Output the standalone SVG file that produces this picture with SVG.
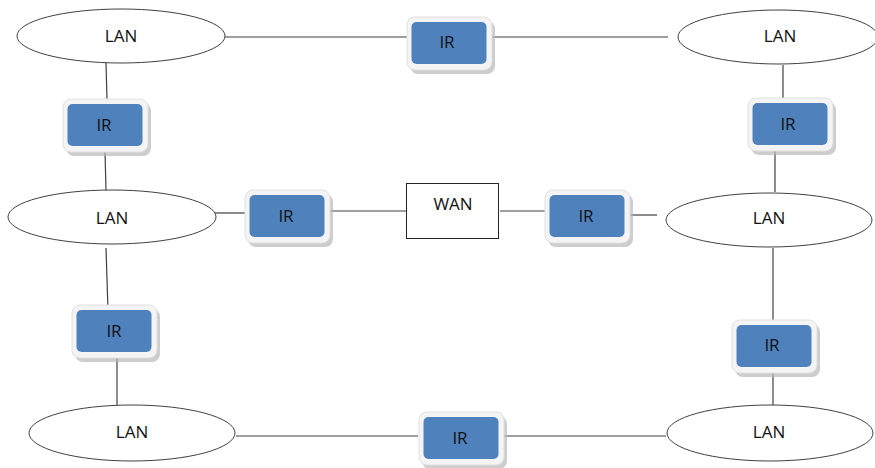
<svg xmlns="http://www.w3.org/2000/svg" width="875" height="468" viewBox="0 0 875 468">
<style>
.lan{fill:#fff;stroke:#404040;stroke-width:1}
.wan{fill:#fff;stroke:#262626;stroke-width:1}
.shadow{fill:#b8b8b8;opacity:0.7}
.frame{fill:#f4f4f4;stroke:#e0e0e0;stroke-width:1}
.blue{fill:#4f81bd}
.t{font-family:"Open Sans","Liberation Sans",sans-serif;font-size:17px;fill:#111;text-anchor:middle;dominant-baseline:central}
.c line{stroke:#404040;stroke-width:1.2}
</style>
<defs>
<g id="ir">
<rect class="shadow" x="3" y="4" width="85" height="53" rx="8"/>
<rect class="frame" x="0" y="0" width="85" height="53" rx="8"/>
<rect class="blue" x="4.5" y="5" width="75" height="42" rx="5"/>
</g>
</defs>
<rect width="875" height="468" fill="#fff"/>
<g class="c" id="connectors">
<line x1="225" y1="37" x2="407" y2="37"/>
<line x1="492" y1="37" x2="668" y2="37"/>
<line x1="106" y1="63" x2="107" y2="100"/>
<line x1="105" y1="152" x2="106" y2="190"/>
<line x1="215" y1="213" x2="245" y2="213"/>
<line x1="330" y1="211" x2="406" y2="211"/>
<line x1="500" y1="211" x2="547" y2="211"/>
<line x1="630" y1="215" x2="657" y2="215"/>
<line x1="106" y1="248" x2="108" y2="310"/>
<line x1="117" y1="353" x2="117" y2="405"/>
<line x1="783" y1="65" x2="783" y2="100"/>
<line x1="775" y1="145" x2="775" y2="192"/>
<line x1="773" y1="248" x2="773" y2="323"/>
<line x1="773" y1="367" x2="773" y2="405"/>
<line x1="236" y1="436" x2="418" y2="436"/>
<line x1="503" y1="436" x2="666" y2="436"/>
</g>
<g id="lan1"><ellipse class="lan" cx="121" cy="36" rx="104" ry="27"/><text class="t" x="121" y="35">LAN</text></g>
<g id="lan2"><ellipse class="lan" cx="778" cy="37" rx="100" ry="27"/><text class="t" x="780" y="35">LAN</text></g>
<g id="lan3"><ellipse class="lan" cx="112" cy="217" rx="104" ry="27"/><text class="t" x="112" y="217">LAN</text></g>
<g id="lan4"><ellipse class="lan" cx="769" cy="220" rx="103" ry="27"/><text class="t" x="769" y="217">LAN</text></g>
<g id="lan5"><ellipse class="lan" cx="132" cy="433" rx="103" ry="28"/><text class="t" x="132" y="431">LAN</text></g>
<g id="lan6"><ellipse class="lan" cx="770" cy="433" rx="103" ry="28"/><text class="t" x="769" y="431">LAN</text></g>
<g id="wan"><rect class="wan" x="406.5" y="183.5" width="92" height="55"/><text class="t" x="453" y="203">WAN</text></g>
<g id="ir1"><use href="#ir" x="407" y="17"/><text class="t" x="447" y="41">IR</text></g>
<g id="ir2"><use href="#ir" x="63" y="99"/><text class="t" x="104" y="124">IR</text></g>
<g id="ir3"><use href="#ir" x="748" y="98"/><text class="t" x="788" y="123">IR</text></g>
<g id="ir4"><use href="#ir" x="245" y="190"/><text class="t" x="286" y="215">IR</text></g>
<g id="ir5"><use href="#ir" x="545" y="190"/><text class="t" x="586" y="215">IR</text></g>
<g id="ir6"><use href="#ir" x="72" y="305"/><text class="t" x="114" y="330">IR</text></g>
<g id="ir7"><use href="#ir" x="732" y="320"/><text class="t" x="772" y="344">IR</text></g>
<g id="ir8"><use href="#ir" x="419" y="412"/><text class="t" x="460" y="437">IR</text></g>
</svg>
